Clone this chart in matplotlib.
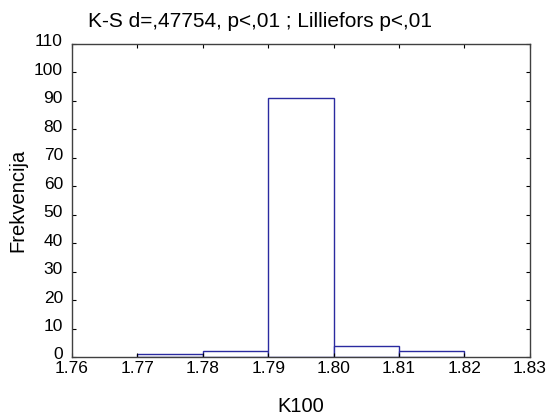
import numpy as np
import matplotlib
matplotlib.use("Agg")
import matplotlib.pyplot as plt
from matplotlib.transforms import ScaledTranslation

plt.rcParams["font.family"] = ["Liberation Sans", "DejaVu Sans"]

# histogram of K100
bin_edges = [1.77, 1.78, 1.79, 1.80, 1.81, 1.82]
counts = [1, 2, 91, 4, 2]
x_ticks = [1.76, 1.77, 1.78, 1.79, 1.80, 1.81, 1.82, 1.83]
y_ticks = list(range(0, 111, 10))

fig = plt.figure(figsize=(5.49, 4.19), dpi=100)
ax = fig.add_axes([0.131, 0.148, 0.834, 0.747])

left = np.array(bin_edges[:-1])
widths = np.diff(bin_edges)
ax.bar(left, counts, width=widths, align="edge", facecolor="white",
       edgecolor="#2a2aa0", linewidth=1.0)

ax.set_xlim(1.76, 1.83)
ax.set_ylim(0, 110)
ax.set_xticks(x_ticks)
ax.set_xticklabels([f"{t:.2f}" for t in x_ticks])
ax.set_yticks(y_ticks)
ax.tick_params(direction="in", length=3, width=0.8, labelsize=12.5,
               top=True, right=True)
ax.tick_params(axis="y", pad=6.5)
ax.tick_params(axis="x", pad=3)
for s in ax.spines.values():
    s.set_color("#404040")
    s.set_linewidth(1.0)

# y labels sit a little above their ticks, as in the original
shift = ScaledTranslation(0, 3.5 / 100, fig.dpi_scale_trans)
for lbl in ax.get_yticklabels():
    lbl.set_transform(lbl.get_transform() + shift)

ax.set_title("K-S d=,47754, p<,01 ; Lilliefors p<,01", fontsize=15,
             pad=12, x=0.41)
ax.set_xlabel("K100", fontsize=14.5, labelpad=15)
ax.set_ylabel("Frekvencija", fontsize=14.5, labelpad=5)

fig.savefig("out.png", dpi=100)
